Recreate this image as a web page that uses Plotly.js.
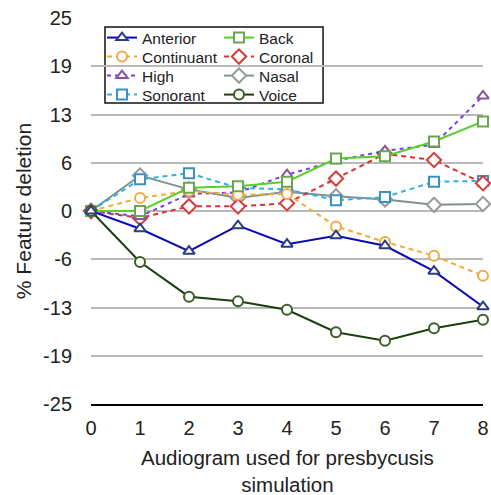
<!DOCTYPE html>
<html><head><meta charset="utf-8">
<script src="https://cdn.plot.ly/plotly-3.0.1.min.js"></script>
<style>html,body{margin:0;padding:0;background:#fff}</style>
</head><body><div id="chart" style="width:491px;height:495px"></div>
<script>
const audiograms = [0,1,2,3,4,5,6,7,8];
const anterior   = [0,-2.3,-5.2,-1.9,-4.3,-3.2,-4.5,-7.8,-12.4];
const continuant = [0,1.7,2.6,2.1,2.2,-2.0,-4.0,-5.8,-8.4];
const high       = [0,-0.7,2.2,2.4,4.7,6.5,7.8,8.6,14.9];
const sonorant   = [0,4.1,4.9,3.0,2.8,1.4,1.8,3.8,3.9];
const back       = [0,0.0,3.0,3.2,3.8,6.8,7.1,9.0,11.6];
const coronal    = [0,-0.9,0.6,0.6,1.0,4.2,7.4,6.6,3.6];
const nasal      = [0,4.6,2.8,1.7,2.5,1.9,1.5,0.8,0.9];
const voice      = [0,-6.6,-11.1,-11.7,-12.8,-15.7,-16.8,-15.2,-14.1];
const yTickVals  = [-25,-18.75,-12.5,-6.25,0,6.25,12.5,18.75,25];
const yTickText  = ['-25','-19','-13','-6','0','6','13','19','25'];
const xTitle = 'Audiogram used for presbycusis<br>simulation';
const yTitle = '% Feature deletion';

const font = {family:'Liberation Sans, Arial, sans-serif', color:'#222'};
function tr(name, y, lineColor, markerColor, symbol, dash, legend){
  return {x: audiograms, y: y, name: name, type:'scatter', mode:'lines+markers',
    line:{color: lineColor, width:2, dash: dash},
    marker:{symbol: symbol, size: symbol==='diamond'?11:10, color:'#ffffff', line:{color: markerColor, width:2}},
    legend: legend, cliponaxis:false};
}
const data = [
  tr('Nasal', nasal, '#7f9191', '#9a9a9a', 'diamond', 'solid', 'legend7'),
  tr('Sonorant', sonorant, '#33b0e3', '#3a90c2', 'square', '5px,4px', 'legend4'),
  tr('Coronal', coronal, '#dc3030', '#d43c3c', 'diamond', '5px,4px', 'legend6'),
  tr('High', high, '#7a3ee0', '#8a559e', 'triangle-up', '4px,4px', 'legend3'),
  tr('Continuant', continuant, '#f3aa35', '#f0aa45', 'circle', '5px,4px', 'legend2'),
  tr('Back', back, '#58d02c', '#6aa650', 'square', 'solid', 'legend5'),
  tr('Voice', voice, '#1b4010', '#3d5c2c', 'circle', 'solid', 'legend8'),
  tr('Anterior', anterior, '#0a0ab0', '#2a3d7e', 'triangle-up', 'solid', 'legend')
];
const rowsPx = [38, 57, 76, 95];
const colsPx = [102, 219];
function leg(col, row){
  return {x:(colsPx[col]-91)/392, y:(404-rowsPx[row])/386, xanchor:'left', yanchor:'middle',
    bgcolor:'rgba(0,0,0,0)', borderwidth:0, font:Object.assign({size:15.5}, font)};
}
const layout = {
  width:491, height:495,
  margin:{l:91, r:8, t:18, b:91},
  paper_bgcolor:'#fff', plot_bgcolor:'#fff',
  font: Object.assign({size:20}, font),
  showlegend:true,
  xaxis:{range:[0,8], tickvals:audiograms, showgrid:false, zeroline:false,
    showline:true, linecolor:'#000', linewidth:2,
    ticks:'outside', ticklen:5, tickcolor:'rgba(0,0,0,0)',
    tickfont:Object.assign({size:20}, font)},
  yaxis:{range:[-25,25], tickvals:yTickVals, ticktext:yTickText,
    showgrid:true, gridcolor:'#b9b9b9', gridwidth:2, zeroline:false, showline:false,
    ticks:'outside', ticklen:14, tickcolor:'rgba(0,0,0,0)',
    tickfont:Object.assign({size:20}, font),
    title:{text:yTitle, font:Object.assign({size:21}, font), standoff:5}},
  legend: leg(0,0), legend2: leg(0,1), legend3: leg(0,2), legend4: leg(0,3),
  legend5: leg(1,0), legend6: leg(1,1), legend7: leg(1,2), legend8: leg(1,3),
  annotations:[{text:xTitle, xref:'paper', yref:'paper', x:0.5, y:(404-471)/386,
    xanchor:'center', yanchor:'middle', showarrow:false, font:Object.assign({size:20.5}, font)}],
  shapes:[{type:'rect', xref:'paper', yref:'paper', x0:0.0357, x1:0.592, y0:0.780, y1:0.977,
    line:{color:'#111', width:1.5}, fillcolor:'#fff', layer:'below'}]
};
Plotly.newPlot('chart', data, layout, {staticPlot:true});
</script></body></html>
